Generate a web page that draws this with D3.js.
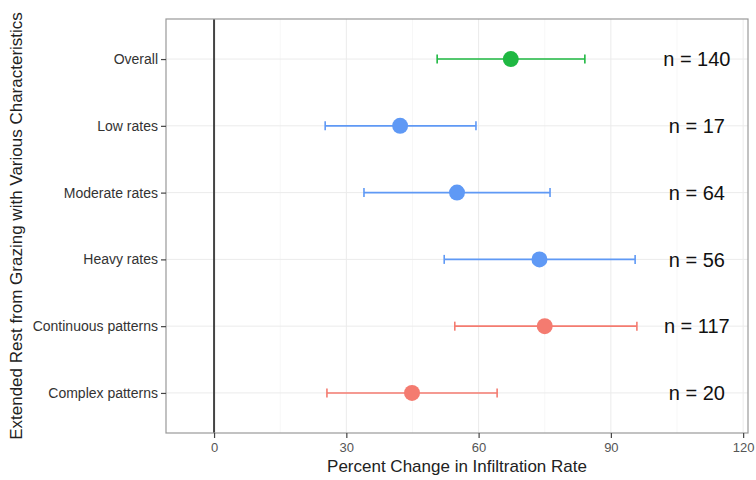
<!DOCTYPE html>
<html>
<head>
<meta charset="utf-8">
<script src="https://cdn.jsdelivr.net/npm/d3@7"></script>
<style>
  body { margin: 0; background: #fff; }
  text { font-family: "Liberation Sans", Arial, sans-serif; }
</style>
</head>
<body>
<svg id="chart" width="756" height="480"></svg>
<script>
// categories top to bottom
const categories = ['Overall', 'Low rates', 'Moderate rates', 'Heavy rates', 'Continuous patterns', 'Complex patterns']
const estimates = [67.3, 42.2, 55.1, 73.8, 75.0, 44.9]
const lower = [50.6, 25.2, 34.0, 52.2, 54.6, 25.6]
const upper = [84.1, 59.4, 76.2, 95.5, 95.9, 64.2]
const groups = ['overall', 'rate', 'rate', 'rate', 'pattern', 'pattern']
const counts = ['n = 140', 'n = 17', 'n = 64', 'n = 56', 'n = 117', 'n = 20']
const xTicks = [0, 30, 60, 90, 120]
const xMinor = [15, 45, 75, 105]
const labelX = 109.5

const color = d3.scaleOrdinal()
  .domain(['overall', 'rate', 'pattern'])
  .range(['#1fb842', '#5f99f5', '#f47b70'])

const svg = d3.select('#chart')
const panel = { left: 166, right: 748, top: 19, bottom: 433 }

const x = d3.scaleLinear()
  .domain([-10.9, 121.1])
  .range([panel.left, panel.right])

const y = d3.scalePoint()
  .domain(categories)
  .range([panel.top, panel.bottom])
  .padding(0.6)

const g = svg.append('g')

// grid
g.selectAll('.minor').data(xMinor).enter().append('line')
  .attr('x1', d => x(d)).attr('x2', d => x(d))
  .attr('y1', panel.top).attr('y2', panel.bottom)
  .attr('stroke', '#f7f7f7').attr('stroke-width', 1)

g.selectAll('.major').data(xTicks).enter().append('line')
  .attr('x1', d => x(d)).attr('x2', d => x(d))
  .attr('y1', panel.top).attr('y2', panel.bottom)
  .attr('stroke', '#ebebeb').attr('stroke-width', 1)

g.selectAll('.hgrid').data(categories).enter().append('line')
  .attr('x1', panel.left).attr('x2', panel.right)
  .attr('y1', d => y(d)).attr('y2', d => y(d))
  .attr('stroke', '#ebebeb').attr('stroke-width', 1)

// zero line
g.append('line')
  .attr('x1', x(0)).attr('x2', x(0))
  .attr('y1', panel.top).attr('y2', panel.bottom)
  .attr('stroke', '#444').attr('stroke-width', 2)

// error bars
const rows = categories.map((c, i) => ({ c, est: estimates[i], lo: lower[i], hi: upper[i], grp: groups[i], n: counts[i] }))

const bars = g.selectAll('.bar').data(rows).enter().append('g')
  .attr('stroke', d => color(d.grp)).attr('stroke-width', 1.6)
bars.append('line')
  .attr('x1', d => x(d.lo)).attr('x2', d => x(d.hi))
  .attr('y1', d => y(d.c)).attr('y2', d => y(d.c))
bars.append('line')
  .attr('x1', d => x(d.lo)).attr('x2', d => x(d.lo))
  .attr('y1', d => y(d.c) - 4.5).attr('y2', d => y(d.c) + 4.5)
bars.append('line')
  .attr('x1', d => x(d.hi)).attr('x2', d => x(d.hi))
  .attr('y1', d => y(d.c) - 4.5).attr('y2', d => y(d.c) + 4.5)

g.selectAll('.pt').data(rows).enter().append('circle')
  .attr('cx', d => x(d.est)).attr('cy', d => y(d.c))
  .attr('r', 8)
  .attr('fill', d => color(d.grp))

g.selectAll('.n').data(rows).enter().append('text')
  .attr('x', x(labelX)).attr('y', d => y(d.c))
  .attr('dy', '0.36em')
  .attr('text-anchor', 'middle')
  .attr('font-size', 20)
  .attr('fill', '#111')
  .text(d => d.n)

// panel border
g.append('rect')
  .attr('x', panel.left).attr('y', panel.top)
  .attr('width', panel.right - panel.left).attr('height', panel.bottom - panel.top)
  .attr('fill', 'none').attr('stroke', '#999').attr('stroke-width', 1.2)

// axes
const xAxis = svg.append('g')
  .attr('transform', `translate(0,${panel.bottom})`)
  .call(d3.axisBottom(x).tickValues(xTicks).tickSize(5).tickPadding(5))
xAxis.select('.domain').remove()
xAxis.selectAll('line').attr('stroke', '#444').attr('stroke-width', 1.2)
xAxis.selectAll('text').attr('font-size', 13).attr('fill', '#555')

const yAxis = svg.append('g')
  .attr('transform', `translate(${panel.left},0)`)
  .call(d3.axisLeft(y).tickSize(5).tickPadding(3))
yAxis.select('.domain').remove()
yAxis.selectAll('line').attr('stroke', '#444').attr('stroke-width', 1.2)
yAxis.selectAll('text').attr('font-size', 14).attr('fill', '#333')

svg.append('text')
  .attr('x', (panel.left + panel.right) / 2).attr('y', 472)
  .attr('text-anchor', 'middle')
  .attr('font-size', 17).attr('fill', '#222')
  .text('Percent Change in Infiltration Rate')

svg.append('text')
  .attr('transform', `translate(22,${(panel.top + panel.bottom) / 2}) rotate(-90)`)
  .attr('text-anchor', 'middle')
  .attr('font-size', 17).attr('fill', '#222')
  .text('Extended Rest from Grazing with Various Characteristics')
</script>
</body>
</html>
